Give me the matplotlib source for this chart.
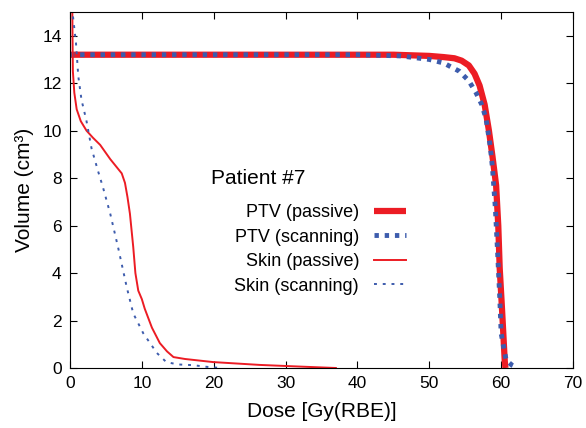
import numpy as np
import matplotlib
matplotlib.use("Agg")
import matplotlib.pyplot as plt

plt.rcParams['font.family'] = ['Liberation Sans', 'DejaVu Sans']

# dose-volume histogram, patient #7
ptv_passive_dose = [0, 45, 50, 52, 53.5, 54.5, 55.5, 56.3, 57.0, 57.7, 58.3, 58.8, 59.3, 59.6, 59.8, 60.1, 60.3, 60.5, 60.6]
ptv_passive_vol = [13.2, 13.2, 13.15, 13.1, 13.05, 12.95, 12.75, 12.4, 11.9, 11.1, 10.0, 8.9, 7.7, 6.0, 4.2, 2.6, 1.46, 0.3, 0]

ptv_scan_dose = [0, 40, 46, 50, 52, 54.2, 55.5, 56.5, 57.3, 57.9, 58.5, 58.8, 59.2, 59.5, 59.8, 60.0, 60.4, 60.7, 61.5, 62.3]
ptv_scan_vol = [13.2, 13.2, 13.15, 13.0, 12.85, 12.5, 12.1, 11.6, 11.1, 10.5, 9.3, 8.4, 6.7, 4.9, 3.0, 1.46, 0.8, 0.33, 0.12, 0]

skin_passive_dose = [0.3, 0.35, 0.4, 0.6, 0.93, 1.5, 2.3, 3.2, 4.2, 5.6, 7.2, 7.65, 8.0, 8.34, 8.8, 9.1, 9.5, 10.0, 10.4,
                     11.4, 12.5, 13.5, 14.4, 16, 19.9, 26.4, 32, 37]
skin_passive_vol = [16, 14.0, 12.5, 11.6, 10.9, 10.4, 10.0, 9.7, 9.4, 8.8, 8.2, 7.8, 7.2, 6.5, 5.1, 4.0, 3.26, 2.9, 2.5,
                    1.7, 1.05, 0.7, 0.46, 0.38, 0.25, 0.13, 0.06, 0]

skin_scan_dose = [0.25, 0.4, 0.83, 1.15, 1.6, 2.3, 3.0, 3.9, 4.6, 5.6, 6.7, 7.9, 8.8, 10.2, 12.1, 13.4, 15, 17.1, 19, 21]
skin_scan_vol = [16, 14.85, 13.7, 12.3, 11.3, 10.4, 9.25, 8.3, 7.6, 6.5, 5.07, 3.4, 2.3, 1.46, 0.63, 0.25, 0.15,
                 0.12, 0.05, 0]

red = '#ec1c24'
blue = '#3d5cad'

fig = plt.figure(figsize=(5.86, 4.28), dpi=100)
ax = fig.add_axes([70 / 586, 1 - 368 / 428, (573 - 70) / 586, (368 - 12) / 428])

ax.plot(ptv_passive_dose, ptv_passive_vol, color=red, lw=4.5, label='PTV (passive)', solid_capstyle='butt')
ax.plot(ptv_scan_dose, ptv_scan_vol, color=blue, lw=3.5, linestyle=(0, (0.9, 1.2)), label='PTV (scanning)')
ax.plot(skin_passive_dose, skin_passive_vol, color=red, lw=1.4, label='Skin (passive)')
ax.plot(skin_scan_dose, skin_scan_vol, color=blue, lw=1.4, linestyle=(0, (1.5, 3)), label='Skin (scanning)')

ax.set_xlim(0, 70)
ax.set_ylim(0, 15)
ax.set_xticks(np.arange(0, 71, 10))
ax.set_yticks(np.arange(0, 15, 2))
ax.tick_params(direction='in', top=True, right=True, labelsize=12.5, length=5, pad=6)
ax.set_xlabel('Dose [Gy(RBE)]', fontsize=15, labelpad=8)
ax.set_ylabel('Volume (cm³)', fontsize=15, labelpad=6)

fig.text(211 / 586, 1 - 178 / 428, 'Patient #7', fontsize=15, va='center', ha='left')

leg = ax.legend(loc='upper right', bbox_to_anchor=((406 - 70) / 503, (368 - 204) / 356), frameon=False,
                markerfirst=False, fontsize=13, handlelength=1.8, labelspacing=0.42, handletextpad=0.8,
                borderpad=0, borderaxespad=0)

fig.savefig('out.png', dpi=100)
